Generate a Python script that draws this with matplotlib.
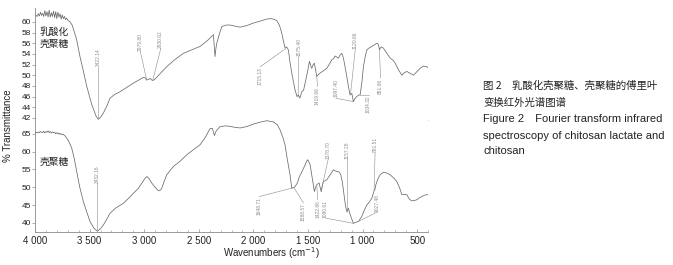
import numpy as np
import matplotlib
matplotlib.use('Agg')

import matplotlib.pyplot as plt
from matplotlib.ticker import MultipleLocator, FuncFormatter


# chitosan lactate (top panel)
lac_wn = [4000, 3990, 3980, 3970, 3960, 3950, 3940, 3930, 3920, 3910, 3900, 3890, 3880,
          3870, 3860, 3850, 3840, 3830, 3820, 3810, 3800, 3790, 3780, 3770, 3760, 3750,
          3740, 3730, 3720, 3710, 3700, 3680, 3660, 3620, 3588, 3555,
          3526, 3480, 3440, 3420, 3400, 3374, 3340, 3313, 3270, 3221, 3160, 3100, 3050,
          3007, 2990, 2977, 2960, 2946, 2930, 2922, 2905, 2885, 2840, 2793, 2720, 2641,
          2560, 2488, 2420, 2366, 2358, 2351, 2343, 2335, 2310, 2289, 2250, 2213, 2170,
          2121, 2060, 2002, 1930, 1880, 1847, 1815, 1786, 1760, 1740, 1720, 1709, 1695,
          1679, 1665, 1648, 1630, 1618, 1600, 1587, 1575, 1556, 1540, 1526, 1505, 1486,
          1475, 1465, 1452, 1441, 1430, 1419, 1400, 1389, 1360, 1327, 1300, 1281, 1265,
          1251, 1235, 1220, 1205, 1190, 1175, 1160, 1145, 1129, 1114, 1098, 1084, 1070,
          1053, 1034, 1022, 1005, 992, 975, 961, 940, 915, 890, 869, 855, 845, 830, 810,
          780, 747, 720, 701, 670, 640, 615, 594, 560, 533, 500, 472, 440, 411, 400]
lac_t = [61.0, 61.2, 61.0, 61.5, 61.1, 61.8, 61.2, 61.6, 61.0, 62.1, 61.1, 61.9, 60.9,
         62.2, 60.9, 61.7, 61.0, 62.0, 60.8, 61.9, 60.6, 61.8, 60.9, 61.5, 60.5, 61.3,
         60.6, 61.0, 60.4, 60.7, 60.3, 60.0, 59.4, 56.8, 53.5, 50.6,
         47.9, 44.5, 42.3, 41.75, 42.1, 42.9, 44.3, 45.7, 46.4, 46.9, 47.7, 48.5, 49.1,
         49.6, 49.5, 49.1, 49.2, 49.4, 49.1, 49.0, 49.2, 49.6, 50.6, 51.6, 52.9, 54.1,
         54.8, 55.4, 56.5, 57.6, 55.5, 53.5, 55.0, 56.0, 57.8, 59.1, 59.4, 59.4, 59.2,
         59.0, 59.3, 59.75, 60.2, 60.5, 60.6, 60.5, 60.25, 59.3, 57.9, 56.0, 55.1, 55.3,
         54.75, 52.5, 50.4, 48.5, 47.25, 46.0, 46.3, 45.7, 46.9, 47.2, 48.5, 50.5, 52.6,
         51.8, 51.3, 52.0, 52.25, 51.0, 49.75, 50.2, 50.4, 50.8, 51.3, 52.2, 52.9, 53.1,
         53.6, 53.4, 53.2, 53.8, 54.1, 53.2, 51.6, 49.8, 47.9, 46.3, 46.6, 45.05, 45.6,
         46.0, 46.3, 46.3, 48.8, 51.6, 53.5, 54.75, 55.1, 55.4, 55.7, 56.0, 55.8, 54.75,
         55.3, 55.1, 54.2, 53.2, 52.8, 52.25, 51.0, 50.0, 50.5, 50.7, 50.3, 50.0, 50.7,
         51.3, 51.7, 51.6, 51.4]

# chitosan (bottom panel)
chi_wn = [4000, 3990, 3980, 3970, 3960, 3950, 3940, 3930, 3920, 3910, 3900, 3890, 3880,
          3870, 3860, 3850, 3840, 3830, 3820, 3810, 3800, 3790, 3780, 3770, 3760, 3750,
          3740, 3725, 3710, 3690, 3664, 3640, 3618, 3590, 3557,
          3525, 3496, 3460, 3429, 3400, 3374, 3340, 3313, 3260, 3191, 3140, 3099, 3053,
          3020, 2992, 2975, 2960, 2931, 2900, 2870, 2850, 2839, 2815, 2793, 2733, 2670,
          2610, 2550, 2488, 2440, 2397, 2375, 2357, 2340, 2305, 2250, 2213, 2170, 2121,
          2060, 2000, 1940, 1877, 1817, 1780, 1756, 1730, 1710, 1690, 1664, 1648, 1630,
          1618, 1597, 1578, 1560, 1547, 1525, 1505, 1495, 1480, 1460, 1441, 1430, 1419,
          1398, 1379, 1368, 1358, 1327, 1297, 1266, 1250, 1230, 1215, 1199, 1185, 1169,
          1157, 1144, 1129, 1115, 1107, 1095, 1084, 1060, 1038, 1020, 1007, 985, 961,
          940, 915, 894, 885, 878, 860, 839, 808, 780, 747, 715, 686, 660, 640, 620, 594,
          570, 548, 525, 503, 480, 457, 430, 411, 400]
chi_t = [65.3, 65.4, 65.2, 65.5, 65.3, 65.6, 65.4, 65.3, 65.7, 65.2, 65.6, 65.4, 65.8,
         65.3, 65.6, 65.2, 65.5, 65.3, 65.4, 65.0, 65.3, 64.9, 65.2, 64.8, 65.0, 64.7,
         64.8, 64.4, 63.8, 62.8, 61.0, 58.0, 54.4, 50.0, 46.0,
         43.0, 40.4, 38.5, 37.7, 38.4, 39.4, 41.2, 42.7, 44.2, 45.5, 47.0, 48.3, 49.7,
         51.2, 52.5, 53.0, 52.6, 51.2, 50.0, 49.0, 49.2, 49.75, 51.8, 53.5, 55.8, 57.3,
         59.1, 60.5, 61.9, 64.0, 66.4, 66.5, 64.5, 65.8, 67.0, 67.2, 67.05, 66.8, 66.6,
         67.0, 67.7, 68.2, 68.65, 68.3, 67.5, 66.1, 64.0, 61.9, 58.0, 53.5, 49.75, 49.9,
         50.2, 51.2, 53.0, 54.0, 54.9, 56.3, 57.7, 57.4, 56.3, 52.5, 48.8, 50.0, 50.7,
         51.2, 48.8, 50.5, 51.6, 52.1, 53.5, 54.9, 54.6, 54.4, 54.3, 53.5, 51.5, 47.9,
         45.0, 43.2, 44.1, 42.5, 41.8, 40.8, 39.9, 40.2, 40.4, 41.2, 41.8, 43.5, 45.0,
         45.8, 46.9, 49.0, 49.5, 50.7, 52.3, 53.5, 54.2, 54.0, 53.5, 52.6, 51.6, 49.8,
         47.9, 48.0, 47.9, 46.6, 46.2, 46.3, 46.5, 47.0, 47.4, 47.8, 47.9, 47.9]

# peak labels: text, (peak wn, peak T), (line end wn, T), text above/below
lac_peaks = [
    ('3422.14', (3422, 41.75), (3422, 51.6), 'up'),
    ('2979.80', (2977, 49.1), (3035, 54.4), 'up'),
    ('2930.62', (2922, 49.0), (2848, 55.0), 'up'),
    ('1715.13', (1703, 55.0), (1935, 51.6), 'down'),
    ('1575.40', (1590, 46.0), (1585, 53.5), 'up'),
    ('1419.66', (1419, 49.75), (1412, 47.9), 'down'),
    ('1097.40', (1084, 45.05), (1245, 45.7), 'up'),
    ('1120.66', (1110, 46.4), (1067, 54.75), 'up'),
    ('1034.32', (1022, 46.3), (945, 46.3), 'down'),
    ('851.06', (845, 54.75), (835, 49.5), 'down'),
]
chi_peaks = [
    ('3432.16', (3429, 37.7), (3425, 51.15), 'up'),
    ('1648.71', (1640, 49.8), (1945, 47.4), 'down'),
    ('1588.57', (1628, 49.9), (1541, 45.6), 'down'),
    ('1422.86', (1419, 50.5), (1410, 46.5), 'down'),
    ('1080.61', (1084, 39.9), (1330, 41.3), 'none'),
    ('1378.70', (1379, 48.8), (1315, 57.8), 'up'),
    ('1157.28', (1144, 43.2), (1144, 57.8), 'up'),
    ('891.51', (894, 49.0), (885, 59.6), 'up'),
    ('1027.48', (1038, 40.4), (869, 43.0), 'up'),
]

lac_name = '乳酸化\n壳聚糖'
chi_name = '壳聚糖'
lac_yticks = np.arange(42, 61, 2)
chi_yticks = np.arange(40, 66, 5)
x_ticks = np.arange(500, 4001, 500)

caption = ['图 2\u3000乳酸化壳聚糖、壳聚糖的傅里叶',
           '变换红外光谱图谱',
           'Figure 2\u3000Fourier transform infrared',
           'spectroscopy of chitosan lactate and',
           'chitosan']

CJK = ['Noto Sans CJK SC', 'DejaVu Sans']
LAT = ['Liberation Sans', 'Noto Sans CJK SC']
plt.rcParams['font.family'] = LAT

LINE = '#6a6a6a'
AXC = '#8a8a8a'
ANN = '#8c8c8c'


def draw_peaks(ax, peaks):
    for txt, (px, py), (ex, ey), where in peaks:
        ax.plot([px, ex], [py, ey], color=ANN, lw=0.4)
        if where == 'up':
            ax.text(ex, ey + 0.15, txt, rotation=90, ha='center', va='bottom',
                    fontsize=3.5, color=ANN)
        elif where == 'down':
            ax.text(ex, ey - 0.15, txt, rotation=90, ha='center', va='top',
                    fontsize=3.5, color=ANN)
        else:
            ax.text(ex + 10, ey + 0.2, txt, rotation=90, ha='center', va='bottom',
                    fontsize=3.5, color=ANN)


def style(ax):
    for s in ['top', 'right']:
        ax.spines[s].set_visible(False)
    ax.spines['left'].set_color(AXC)
    ax.spines['left'].set_linewidth(0.6)
    ax.tick_params(axis='y', direction='out', length=2, width=0.5, color=AXC,
                   labelsize=6, pad=1, labelcolor='#222222')
    ax.set_xlim(4000, 400)


fig = plt.figure(figsize=(6.73, 2.65), dpi=100)
ax1 = fig.add_axes([0.052, 0.547, 0.584, 0.423])
ax2 = fig.add_axes([0.052, 0.125, 0.584, 0.423])

# top panel
ax1.plot(lac_wn, lac_t, color=LINE, lw=0.55)
draw_peaks(ax1, lac_peaks)
style(ax1)
ax1.set_ylim(41.6, 62.6)
ax1.set_yticks(lac_yticks)
ax1.set_xticks([])
ax1.spines['bottom'].set_color('#dddddd')
ax1.spines['bottom'].set_linewidth(0.8)
ax1.text(3955, 59.0, lac_name, ha='left', va='top', fontsize=7, family=CJK,
         color='#222222', linespacing=1.15)

# bottom panel
ax2.plot(chi_wn, chi_t, color=LINE, lw=0.55)
draw_peaks(ax2, chi_peaks)
style(ax2)
ax2.set_ylim(37.5, 68.9)
ax2.set_yticks(chi_yticks)
ax2.set_xticks(x_ticks)
ax2.xaxis.set_minor_locator(MultipleLocator(100))
ax2.xaxis.set_major_formatter(FuncFormatter(lambda v, p: '{:,}'.format(int(v)).replace(',', ' ')))
ax2.spines['bottom'].set_color(AXC)
ax2.spines['bottom'].set_linewidth(0.6)
ax2.tick_params(axis='x', which='major', direction='in', length=2, width=0.5, color=AXC,
                labelsize=7, pad=3, labelcolor='#222222')
ax2.tick_params(axis='x', which='minor', direction='in', length=1.2, width=0.4, color=AXC)
ax2.text(3955, 58.6, chi_name, ha='left', va='top', fontsize=7, family=CJK, color='#222222')

fig.text(0.012, 0.525, '% Transmittance', rotation=90, ha='center', va='center',
         fontsize=7, color='#222222')
fig.text(0.404, 0.045, 'Wavenumbers (cm$^{-1}$)', ha='center', va='center',
         fontsize=7, color='#222222')

cap_y = [86, 103, 119, 136, 151]
cap_size = [7.5, 7.5, 8, 8, 8]
for i, line in enumerate(caption):
    fam = CJK if i < 2 else LAT
    fig.text(0.718, 1 - cap_y[i] / 265.0, line, ha='left', va='center', fontsize=cap_size[i],
             family=fam, color='#222222')

fig.savefig('out.png', dpi=100)
plt.close()
